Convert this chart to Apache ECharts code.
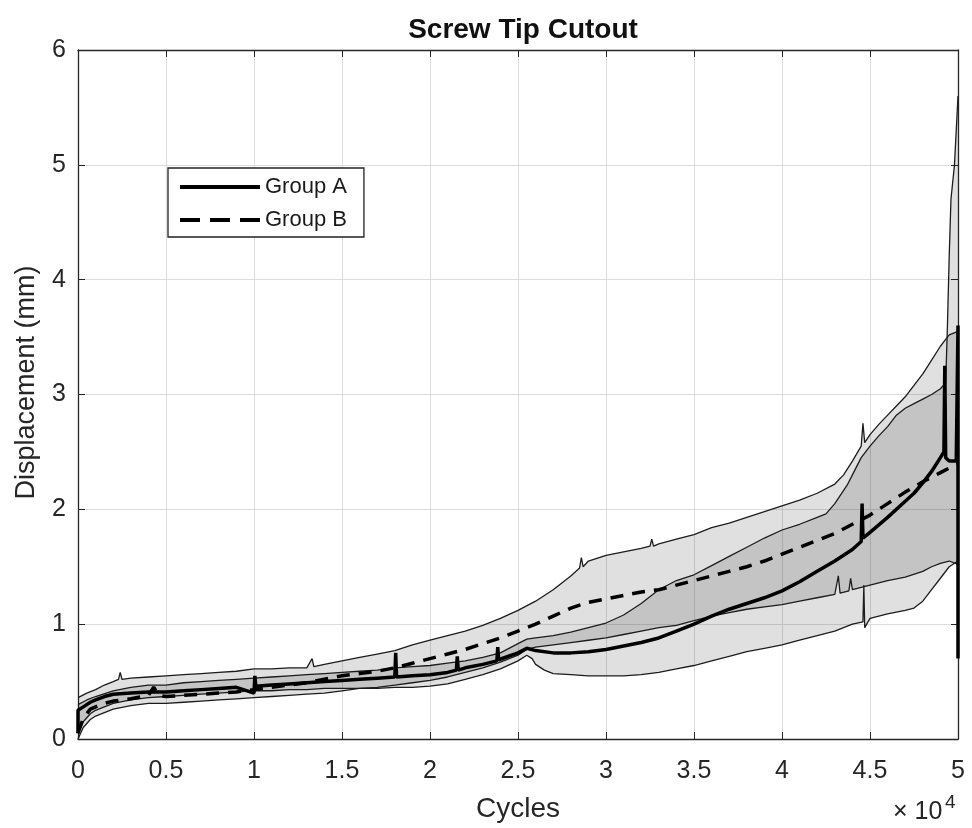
<!DOCTYPE html>
<html>
<head>
<meta charset="utf-8">
<script src="https://cdn.jsdelivr.net/npm/echarts@6/dist/echarts.min.js"></script>
<style>
html,body{margin:0;padding:0;background:#fff;}
#chart{width:972px;height:828px;}
</style>
</head>
<body>
<div id="chart"></div>
<script>
// ---- Data (x in cycles, y in mm) ----
const groupAMean = [[0,0.05],[0,0.25],[300,0.28],[700,0.32],[1000,0.34],[1500,0.37],[2000,0.39],[3000,0.40],[4000,0.41],[5000,0.41],[6000,0.42],[7000,0.43],[8000,0.44],[9000,0.45],[10000,0.40],[10050,0.55],[10100,0.46],[11000,0.47],[12000,0.48],[13000,0.49],[14000,0.50],[15000,0.51],[16000,0.52],[17000,0.53],[18000,0.54],[18050,0.75],[18100,0.54],[19000,0.55],[20000,0.56],[21000,0.58],[21500,0.60],[21550,0.72],[21600,0.60],[22000,0.62],[23000,0.65],[23800,0.68],[23850,0.80],[23900,0.69],[24000,0.70],[25000,0.75],[25500,0.79],[26000,0.77],[27000,0.75],[28000,0.75],[29000,0.76],[30000,0.78],[31000,0.81],[32000,0.84],[33000,0.88],[34000,0.94],[35000,1.00],[36000,1.07],[37000,1.13],[38000,1.18],[39000,1.23],[40000,1.29],[41000,1.37],[42000,1.46],[43000,1.55],[44000,1.65],[44500,1.72],[44550,2.05],[44600,1.75],[45000,1.80],[46000,1.93],[47000,2.07],[47500,2.14],[48000,2.23],[48500,2.33],[49000,2.45],[49200,2.50],[49250,3.25],[49300,2.45],[49500,2.42],[49900,2.42],[50000,3.60],[50000,1.40],[50000,0.70]];

const groupBMean = [[0,0.05],[300,0.18],[700,0.26],[1000,0.28],[1500,0.31],[2000,0.33],[3000,0.35],[4000,0.38],[4300,0.45],[4600,0.38],[5000,0.37],[6000,0.38],[7000,0.39],[8000,0.40],[9000,0.41],[10000,0.43],[11000,0.45],[12000,0.47],[13000,0.49],[14000,0.52],[15000,0.55],[16000,0.57],[17000,0.59],[18000,0.62],[19000,0.66],[20000,0.70],[21000,0.74],[22000,0.78],[23000,0.83],[24000,0.88],[25000,0.94],[26000,1.00],[27000,1.07],[28000,1.14],[29000,1.19],[30000,1.22],[31000,1.25],[32000,1.28],[33000,1.30],[34000,1.34],[35000,1.38],[36000,1.42],[37000,1.46],[38000,1.50],[39000,1.55],[40000,1.61],[41000,1.67],[42000,1.73],[43000,1.79],[44000,1.87],[45000,1.95],[46000,2.05],[47000,2.15],[48000,2.24],[49000,2.32],[50000,2.40]];

const groupAUpper = [[0,0.30],[500,0.34],[1000,0.37],[2000,0.42],[3000,0.45],[4000,0.47],[5000,0.47],[6000,0.49],[7000,0.50],[8000,0.51],[9000,0.52],[10000,0.53],[11000,0.54],[12000,0.55],[13000,0.56],[14000,0.57],[15000,0.58],[16000,0.59],[17000,0.60],[18000,0.62],[19000,0.63],[20000,0.64],[21000,0.66],[22000,0.68],[23000,0.71],[24000,0.75],[25000,0.83],[25500,0.87],[26000,0.88],[27000,0.90],[28000,0.93],[29000,0.97],[30000,1.01],[31000,1.08],[32000,1.18],[33000,1.30],[34000,1.38],[35000,1.43],[36000,1.51],[37000,1.59],[38000,1.67],[39000,1.75],[40000,1.82],[41000,1.87],[42000,1.93],[42500,1.96],[43000,2.05],[43700,2.21],[44000,2.30],[44500,2.45],[45000,2.55],[45500,2.64],[46000,2.72],[46500,2.82],[47000,2.88],[47500,2.92],[48000,2.96],[48500,3.00],[49000,3.05],[49300,3.10],[49400,3.60],[49500,4.20],[49600,4.70],[49800,5.00],[50000,5.60]];

const groupALower = [[0,0.05],[300,0.15],[700,0.22],[1000,0.25],[2000,0.31],[3000,0.34],[4000,0.36],[5000,0.37],[6000,0.38],[7000,0.39],[8000,0.40],[9000,0.41],[10000,0.42],[11000,0.42],[12000,0.43],[13000,0.43],[14000,0.44],[15000,0.44],[16000,0.44],[17000,0.44],[18000,0.45],[19000,0.45],[20000,0.46],[21000,0.48],[22000,0.52],[23000,0.56],[24000,0.61],[25000,0.68],[25500,0.73],[25800,0.70],[26000,0.65],[26500,0.60],[27000,0.57],[28000,0.56],[29000,0.55],[30000,0.55],[31000,0.55],[32000,0.56],[33000,0.58],[34000,0.61],[35000,0.64],[36000,0.68],[37000,0.72],[38000,0.76],[39000,0.79],[40000,0.82],[41000,0.86],[42000,0.90],[43000,0.94],[43500,0.97],[44000,1.00],[44600,1.02],[44650,1.34],[44700,0.97],[45000,1.05],[46000,1.09],[47000,1.12],[47500,1.14],[48000,1.20],[48500,1.30],[49000,1.40],[49500,1.50],[50000,1.55]];

const groupBUpper = [[0,0.36],[500,0.40],[1000,0.43],[1500,0.47],[2000,0.50],[2300,0.52],[2400,0.58],[2500,0.52],[3000,0.53],[4000,0.54],[5000,0.55],[6000,0.56],[7000,0.57],[8000,0.58],[9000,0.59],[10000,0.61],[11000,0.61],[12000,0.62],[13000,0.62],[13300,0.70],[13400,0.63],[14000,0.65],[15000,0.68],[16000,0.71],[17000,0.74],[18000,0.77],[19000,0.82],[20000,0.86],[21000,0.90],[22000,0.94],[23000,0.99],[24000,1.05],[25000,1.12],[26000,1.20],[27000,1.30],[28000,1.42],[28500,1.49],[28600,1.58],[28700,1.50],[29000,1.55],[30000,1.60],[31000,1.63],[32000,1.66],[32500,1.68],[32600,1.74],[32700,1.68],[33000,1.70],[34000,1.74],[35000,1.78],[36000,1.84],[37000,1.88],[38000,1.93],[39000,1.98],[40000,2.03],[41000,2.08],[42000,2.14],[43000,2.22],[43500,2.30],[44000,2.42],[44500,2.55],[44600,2.75],[44700,2.58],[45000,2.65],[45500,2.74],[46000,2.82],[46500,2.90],[47000,2.98],[47500,3.08],[48000,3.18],[48500,3.30],[49000,3.42],[49300,3.48],[49500,3.52],[50000,3.55]];

const groupBLower = [[0,0.0],[300,0.10],[700,0.17],[1000,0.20],[1500,0.23],[2000,0.26],[3000,0.29],[4000,0.31],[5000,0.31],[6000,0.32],[7000,0.33],[8000,0.34],[9000,0.35],[10000,0.36],[11000,0.37],[12000,0.38],[13000,0.39],[14000,0.40],[15000,0.42],[16000,0.44],[17000,0.45],[18000,0.47],[19000,0.49],[20000,0.51],[21000,0.54],[22000,0.58],[23000,0.62],[24000,0.67],[25000,0.73],[25500,0.78],[26000,0.80],[27000,0.82],[28000,0.84],[29000,0.86],[30000,0.88],[31000,0.91],[32000,0.94],[33000,0.97],[34000,0.99],[35000,1.03],[36000,1.07],[37000,1.10],[38000,1.13],[39000,1.15],[40000,1.17],[41000,1.20],[42000,1.23],[43000,1.26],[43200,1.42],[43300,1.27],[43800,1.29],[43900,1.40],[44000,1.30],[45000,1.34],[46000,1.38],[47000,1.41],[48000,1.46],[48500,1.50],[49000,1.53],[49500,1.55],[50000,1.52]];

const seriesNames = ['Group A', 'Group B'];
const chartTitle = 'Screw Tip Cutout';
const xName = 'Cycles';
const yName = 'Displacement (mm)';

// ---- Chart ----
const chart = echarts.init(document.getElementById('chart'), null, {renderer: 'canvas'});
const FONT = '"Liberation Sans", Arial, Helvetica, sans-serif';
const BAND_FILL = 'rgba(0,0,0,0.12)';
const EDGE = '#1c1c1c';
const AXC = '#262626';

function bandRender(upper, lower) {
  return function (params, api) {
    const pts = [];
    for (let i = 0; i < upper.length; i++) pts.push(api.coord(upper[i]));
    for (let i = lower.length - 1; i >= 0; i--) pts.push(api.coord(lower[i]));
    return {type: 'polygon', shape: {points: pts}, style: {fill: BAND_FILL}, silent: true};
  };
}

function edgeLine(data) {
  return {type: 'line', data: data, showSymbol: false, symbol: 'none', z: 3, silent: true,
    lineStyle: {color: EDGE, width: 1.3}, animation: false};
}

const axisCommonX = {type: 'value', min: 0, max: 50000, interval: 5000};
const axisCommonY = {type: 'value', min: 0, max: 6, interval: 1};

const option = {
  animation: false,
  backgroundColor: '#ffffff',
  title: {text: chartTitle, left: 518, top: 11, textAlign: 'center',
    textStyle: {fontFamily: FONT, fontWeight: 'bold', fontSize: 28, color: '#111'}},
  grid: {left: 78, right: 14, top: 50, bottom: 86, containLabel: false},
  legend: {
    data: [
      {name: seriesNames[0], lineStyle: {width: 4, type: 'solid', color: '#000'}},
      {name: seriesNames[1], lineStyle: {width: 4, type: [20, 10], color: '#000'}}
    ],
    orient: 'vertical', left: 168, top: 168,
    itemWidth: 80, itemHeight: 20, itemGap: 11,
    padding: [8, 17, 6, 10],
    borderColor: '#222', borderWidth: 1.3, backgroundColor: '#fff',
    itemStyle: {opacity: 0},
    textStyle: {fontFamily: FONT, fontSize: 22, color: '#1a1a1a'}
  },
  xAxis: [
    Object.assign({}, axisCommonX, {
      position: 'bottom',
      name: xName, nameLocation: 'middle', nameGap: 56,
      nameTextStyle: {fontFamily: FONT, fontSize: 28, color: AXC},
      axisLine: {show: true, onZero: false, lineStyle: {color: AXC, width: 1.3}},
      axisTick: {show: true, inside: true, length: 7, lineStyle: {color: AXC}},
      axisLabel: {fontFamily: FONT, fontSize: 25, color: AXC, margin: 20,
        formatter: v => String(+(v / 10000).toFixed(1))},
      splitLine: {show: true, lineStyle: {color: '#dcdcdc', width: 1}}
    }),
    Object.assign({}, axisCommonX, {
      position: 'top',
      axisLine: {show: true, onZero: false, lineStyle: {color: AXC, width: 1.3}},
      axisTick: {show: true, inside: true, length: 7, lineStyle: {color: AXC}},
      axisLabel: {show: false}, splitLine: {show: false}
    })
  ],
  yAxis: [
    Object.assign({}, axisCommonY, {
      position: 'left',
      name: yName, nameLocation: 'middle', nameGap: 38, nameRotate: 90,
      nameTextStyle: {fontFamily: FONT, fontSize: 27, color: AXC, padding: [0, 0, 0, 24]},
      axisLine: {show: true, onZero: false, lineStyle: {color: AXC, width: 1.3}},
      axisTick: {show: true, inside: true, length: 7, lineStyle: {color: AXC}},
      axisLabel: {fontFamily: FONT, fontSize: 25, color: AXC, margin: 12},
      splitLine: {show: true, lineStyle: {color: '#dcdcdc', width: 1}}
    }),
    Object.assign({}, axisCommonY, {
      position: 'right',
      axisLine: {show: true, onZero: false, lineStyle: {color: AXC, width: 1.3}},
      axisTick: {show: true, inside: true, length: 7, lineStyle: {color: AXC}},
      axisLabel: {show: false}, splitLine: {show: false}
    })
  ],
  graphic: [
    {type: 'text', left: 893, top: 800, style: {text: '× 10', font: '25px ' + FONT, fill: AXC}},
    {type: 'text', left: 945, top: 793, style: {text: '4', font: '19px ' + FONT, fill: AXC}}
  ],
  series: [
    {type: 'custom', data: [[0, 0]], renderItem: bandRender(groupBUpper, groupBLower), z: 1, silent: true, clip: true},
    {type: 'custom', data: [[0, 0]], renderItem: bandRender(groupAUpper, groupALower), z: 1, silent: true, clip: true},
    edgeLine(groupBUpper),
    edgeLine(groupBLower),
    edgeLine(groupAUpper),
    edgeLine(groupALower),
    {name: 'Group A', type: 'line', data: groupAMean, showSymbol: false, symbol: 'none', z: 5,
      lineStyle: {color: '#000', width: 3.5, type: 'solid'}, itemStyle: {color: '#000'}},
    {name: 'Group B', type: 'line', data: groupBMean, showSymbol: false, symbol: 'none', z: 5,
      lineStyle: {color: '#000', width: 3.5, type: [13, 9]}, itemStyle: {color: '#000'}}
  ]
};
chart.setOption(option);
</script>
</body>
</html>
